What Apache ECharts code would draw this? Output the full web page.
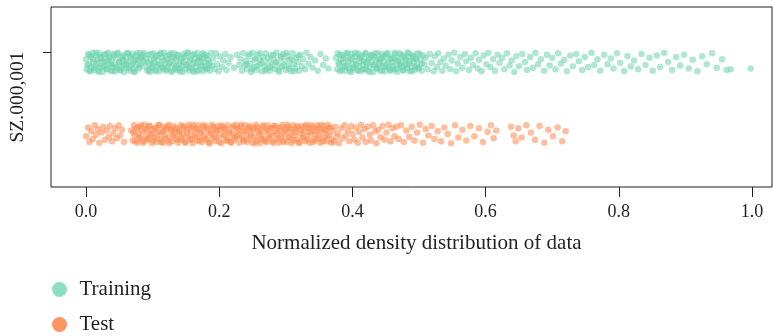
<!DOCTYPE html>
<html>
<head>
<meta charset="utf-8">
<script src="https://cdn.jsdelivr.net/npm/echarts@6/dist/echarts.min.js"></script>
<style>
  html, body { margin: 0; padding: 0; background: #fff; }
  #chart { width: 773px; height: 336px; }
</style>
</head>
<body>
<div id="chart"></div>
<script>
  // categories and tick labels
  var categories = ['Training', 'Test'];
  var xTicks = [0.0, 0.2, 0.4, 0.6, 0.8, 1.0];
  var yTickLabel = 'SZ.000,001';

  // jittered strip points: [normalized density, row position] (Training row ~1, Test row ~0)
  var trainingPoints = [
    [0.000,1.04],[0.001,0.90],[0.003,1.11],[0.004,0.97],[0.005,0.87],[0.007,1.07],[0.008,0.93],[0.010,1.13],[0.011,1.00],[0.012,0.89],
    [0.014,1.09],[0.015,0.95],[0.017,1.03],[0.018,0.88],[0.020,1.12],[0.021,0.92],[0.022,1.06],[0.024,0.99],[0.025,0.86],[0.027,1.10],
    [0.028,0.94],[0.030,1.02],[0.031,0.90],[0.033,1.13],[0.034,0.97],[0.035,1.07],[0.037,0.88],[0.038,1.01],[0.040,0.93],[0.041,1.11],
    [0.043,0.96],[0.044,0.87],[0.045,1.05],[0.047,0.91],[0.048,1.12],[0.050,0.99],[0.051,0.89],[0.053,1.08],[0.054,0.94],[0.055,1.03],
    [0.057,0.86],[0.058,1.10],[0.060,0.97],[0.061,0.92],[0.063,1.13],[0.064,1.00],[0.065,0.88],[0.067,1.06],[0.068,0.95],[0.070,1.11],
    [0.071,0.90],[0.073,1.02],[0.074,0.87],[0.075,1.09],[0.077,0.96],[0.078,1.04],[0.080,0.91],[0.081,1.12],[0.083,0.98],[0.084,1.07],
    [0.086,1.01],[0.087,1.13],[0.089,0.93],[0.090,1.05],[0.092,0.88],[0.093,1.10],[0.095,0.97],[0.096,0.86],[0.098,1.03],[0.099,0.92],
    [0.101,1.12],[0.102,0.99],[0.104,0.89],[0.105,1.08],[0.107,0.95],[0.108,1.02],[0.110,0.87],[0.111,1.11],[0.113,0.94],[0.114,1.06],
    [0.116,0.90],[0.117,1.13],[0.119,0.98],[0.120,0.88],[0.122,1.04],[0.123,0.93],[0.125,1.10],[0.126,1.00],[0.128,0.86],[0.129,1.07],
    [0.131,0.96],[0.132,1.12],[0.134,0.91],[0.135,1.03],[0.137,0.89],[0.138,1.09],[0.140,0.97],[0.141,0.87],[0.143,1.05],[0.144,0.94],
    [0.146,1.11],[0.147,1.00],[0.149,0.90],[0.150,1.08],[0.152,0.95],[0.153,1.13],[0.155,0.88],[0.156,1.02],[0.158,0.92],[0.159,1.10],
    [0.161,0.98],[0.162,0.86],[0.164,1.06],[0.165,0.93],[0.167,1.12],[0.168,1.01],[0.170,0.89],[0.171,1.07],[0.173,0.96],[0.174,1.04],
    [0.176,0.87],[0.177,1.11],[0.179,0.94],[0.180,1.09],[0.182,0.91],[0.183,1.03],[0.185,0.99],[0.186,0.88],[0.188,1.13],[0.189,0.95],
    [0.002,0.96],[0.005,1.10],[0.007,0.88],[0.010,1.04],[0.012,0.92],[0.015,1.13],[0.017,0.99],[0.020,0.86],[0.022,1.07],[0.025,0.94],
    [0.027,1.01],[0.030,1.11],[0.032,0.90],[0.035,1.05],[0.037,0.97],[0.040,0.87],[0.042,1.09],[0.045,0.93],[0.047,1.12],[0.050,1.00],
    [0.052,0.89],[0.055,1.06],[0.057,0.95],[0.060,1.02],[0.062,1.12],[0.065,0.91],[0.067,1.08],[0.070,0.98],[0.072,0.86],[0.075,1.03],
    [0.077,1.13],[0.080,0.94],[0.082,1.06],[0.085,1.10],[0.092,1.00],[0.095,0.89],[0.097,1.11],[0.100,0.95],[0.102,1.04],[0.105,0.87],
    [0.107,1.09],[0.110,0.97],[0.112,1.13],[0.115,0.92],[0.117,1.02],[0.120,1.08],[0.122,0.90],[0.125,0.98],[0.127,1.12],[0.130,0.88],
    [0.132,1.05],[0.135,0.95],[0.137,1.10],[0.140,0.91],[0.142,1.01],[0.145,0.86],[0.147,1.07],[0.150,0.97],[0.152,1.13],[0.155,0.93],
    [0.157,1.04],[0.160,0.89],[0.162,1.11],[0.165,0.99],[0.167,0.87],[0.170,1.06],[0.172,0.94],[0.175,1.12],[0.177,1.00],[0.180,0.90],
    [0.182,1.08],[0.185,0.96],
    [0.191,1.05],[0.193,0.90],[0.195,1.12],[0.197,0.97],[0.199,0.87],[0.201,1.08],[0.204,0.93],[0.206,1.02],[0.209,1.11],[0.211,0.89],
    [0.214,0.99],[0.217,1.07],[0.222,0.92],[0.227,1.10],[0.230,0.96],
    [0.232,1.04],[0.234,0.88],[0.236,1.12],[0.238,0.95],[0.240,1.01],[0.242,0.90],[0.244,1.08],[0.246,0.98],[0.248,0.86],[0.250,1.13],
    [0.252,0.93],[0.254,1.05],[0.256,0.89],[0.258,1.10],[0.260,0.97],[0.262,1.02],[0.264,0.87],[0.266,1.07],[0.268,0.94],[0.270,1.12],
    [0.272,0.91],[0.274,1.00],[0.276,0.88],[0.278,1.09],[0.280,0.96],[0.282,1.04],[0.284,0.90],[0.286,1.13],[0.288,0.98],[0.290,0.86],
    [0.292,1.06],[0.294,0.93],[0.296,1.11],[0.298,1.01],[0.300,0.89],[0.302,1.08],[0.304,0.95],[0.306,1.03],[0.308,0.87],[0.310,1.12],
    [0.312,0.97],[0.314,0.91],[0.316,1.06],[0.318,1.00],[0.320,0.88],[0.322,1.10],[0.324,0.94],[0.326,1.04],[0.329,0.90],[0.331,1.13],
    [0.334,0.98],[0.337,1.07],[0.340,0.92],[0.344,1.02],[0.348,0.88],[0.352,1.11],[0.356,0.96],[0.360,1.05],[0.364,0.91],
    [0.241,0.97],[0.245,1.11],[0.249,0.90],[0.253,1.03],[0.257,0.94],[0.261,1.12],[0.265,0.99],[0.269,0.88],[0.273,1.06],[0.277,0.93],
    [0.281,1.10],[0.285,1.00],[0.289,0.89],[0.293,1.08],[0.297,0.95],[0.301,1.13],[0.305,0.91],[0.309,1.04],[0.313,0.87],[0.319,1.09],
    [0.375,1.06],[0.377,0.90],[0.378,1.12],[0.380,0.97],[0.381,0.87],[0.383,1.03],[0.384,1.10],[0.386,0.93],[0.387,1.00],[0.389,0.88],
    [0.390,1.08],[0.392,0.95],[0.393,1.13],[0.395,0.91],[0.396,1.04],[0.398,0.86],[0.399,1.11],[0.401,0.98],[0.402,0.92],[0.404,1.07],
    [0.405,1.01],[0.407,0.89],[0.408,1.12],[0.410,0.94],[0.411,1.05],[0.413,0.87],[0.414,1.09],[0.416,0.96],[0.417,1.02],[0.419,0.90],
    [0.420,1.13],[0.422,0.99],[0.423,0.88],[0.425,1.06],[0.426,0.93],[0.428,1.10],[0.429,1.00],[0.431,0.86],[0.432,1.08],[0.434,0.95],
    [0.435,1.03],[0.437,0.91],[0.438,1.12],[0.440,0.97],[0.441,0.89],[0.443,1.05],[0.444,1.11],[0.446,0.94],[0.447,1.01],[0.449,0.87],
    [0.450,1.09],[0.452,0.96],[0.453,1.13],[0.455,0.92],[0.456,1.04],[0.458,0.88],[0.459,1.07],[0.461,0.99],[0.462,0.90],[0.464,1.11],
    [0.465,1.02],[0.467,0.86],[0.468,1.06],[0.470,0.95],[0.471,1.12],[0.473,0.93],[0.474,1.00],[0.476,0.89],[0.477,1.08],[0.479,0.97],
    [0.480,1.04],[0.482,0.91],[0.483,1.13],[0.485,0.98],[0.486,0.87],[0.488,1.07],[0.489,0.94],[0.491,1.10],[0.492,1.01],[0.494,0.89],
    [0.495,1.05],[0.497,0.96],[0.498,1.12],[0.500,0.92],[0.502,1.03],[0.504,0.88],[0.506,1.09],[0.508,0.97],[0.510,1.06],[0.513,0.90],
    [0.516,1.11],[0.519,0.99],[0.522,0.87],
    [0.379,0.99],[0.381,1.10],[0.384,0.89],[0.386,1.05],[0.389,0.94],[0.391,1.12],[0.394,1.00],[0.396,0.87],[0.399,1.06],[0.401,0.92],
    [0.404,1.13],[0.406,0.97],[0.409,0.88],[0.411,1.08],[0.414,1.01],[0.416,0.90],[0.419,1.11],[0.421,0.95],[0.424,1.03],[0.426,0.86],
    [0.429,1.09],[0.431,0.96],[0.434,1.12],[0.436,0.91],[0.439,1.04],[0.441,0.99],[0.444,0.87],[0.446,1.07],[0.449,0.93],[0.451,1.11],
    [0.454,1.00],[0.456,0.89],[0.459,1.05],[0.461,0.94],[0.464,1.13],[0.466,0.90],[0.469,1.02],[0.471,0.97],[0.474,1.10],[0.476,0.88],
    [0.479,1.06],[0.481,0.95],[0.484,1.12],[0.486,1.01],[0.489,0.87],[0.491,1.08],[0.494,0.93],[0.496,1.04],[0.499,0.91],[0.501,1.11],
    [0.504,0.98],
    [0.524,1.08],[0.527,0.93],[0.529,1.12],[0.532,1.00],[0.535,0.88],[0.537,1.05],[0.540,0.95],[0.544,1.10],[0.547,0.90],[0.549,1.02],
    [0.553,1.13],[0.556,0.87],[0.558,0.98],[0.562,1.07],[0.565,0.92],[0.569,1.11],[0.571,1.01],[0.575,0.89],[0.578,1.06],[0.581,0.96],
    [0.585,1.12],[0.588,0.91],[0.590,1.03],[0.594,0.87],[0.597,1.09],[0.601,0.97],[0.604,1.13],[0.607,0.93],[0.611,1.04],[0.614,0.88],
    [0.618,1.10],[0.621,0.99],[0.625,1.06],[0.628,0.90],[0.632,1.12],[0.636,0.95],[0.639,1.02],[0.643,0.86],[0.646,1.08],[0.650,0.94],
    [0.655,1.11],[0.659,1.00],[0.662,0.89],[0.667,1.07],[0.671,0.92],[0.675,1.13],[0.679,0.97],[0.683,1.04],[0.688,0.88],[0.692,1.10],
    [0.696,0.95],[0.700,1.06],[0.705,0.90],[0.709,1.12],[0.713,0.98],[0.718,1.03],[0.722,0.87],[0.727,1.09],[0.731,0.94],[0.736,1.11],
    [0.740,1.01],[0.745,0.89],[0.749,1.07],[0.754,0.93],[0.759,1.13],[0.763,0.96],[0.768,1.04],[0.772,0.88],[0.778,1.10],[0.783,0.97],
    [0.788,1.05],[0.792,0.91],[0.797,1.12],[0.802,0.99],[0.808,0.87],[0.813,1.08],[0.818,0.94],[0.823,1.02],[0.829,0.90],[0.834,1.11],
    [0.840,0.96],[0.846,1.06],[0.851,0.88],[0.857,1.09],[0.862,0.93],[0.868,1.13],[0.874,1.00],[0.880,0.89],[0.886,1.07],[0.892,0.95],
    [0.898,1.10],[0.905,0.91],[0.911,1.03],[0.918,0.87],[0.925,1.08],[0.932,0.97],[0.940,1.12],[0.947,0.92],[0.955,1.04],[0.962,0.89],
    [0.968,0.90],[0.998,0.91]
  ];

  var testPoints = [
    [0.000,-0.03],[0.003,0.09],[0.005,-0.11],[0.008,0.04],[0.010,-0.07],[0.013,0.12],[0.015,-0.01],[0.018,0.07],[0.020,-0.12],[0.023,0.02],
    [0.026,0.10],[0.028,-0.08],[0.031,0.05],[0.034,-0.04],[0.036,0.11],[0.039,-0.10],[0.041,0.01],[0.044,0.08],[0.046,-0.06],[0.049,0.12],
    [0.051,-0.02],[0.054,0.06],[0.057,-0.11],
    [0.068,0.05],[0.070,-0.09],[0.072,0.12],[0.073,-0.02],[0.075,0.08],[0.077,-0.12],[0.079,0.01],[0.081,0.10],[0.082,-0.06],[0.084,0.04],
    [0.086,-0.10],[0.088,0.13],[0.090,-0.03],[0.091,0.07],[0.093,-0.08],[0.095,0.11],[0.097,0.00],[0.099,-0.13],[0.100,0.06],[0.102,-0.05],
    [0.104,0.09],[0.106,-0.11],[0.108,0.03],[0.109,0.12],[0.111,-0.07],[0.113,0.02],[0.115,-0.12],[0.117,0.10],[0.118,-0.01],[0.120,0.07],
    [0.122,-0.09],[0.124,0.13],[0.126,-0.04],[0.127,0.05],[0.129,-0.10],[0.131,0.11],[0.133,0.01],[0.135,-0.06],[0.136,0.08],[0.138,-0.12],
    [0.140,0.03],[0.142,0.12],[0.144,-0.08],[0.145,0.00],[0.147,0.09],[0.149,-0.11],[0.151,0.06],[0.153,-0.03],[0.154,0.13],[0.156,-0.07],
    [0.158,0.04],[0.160,-0.13],[0.162,0.10],[0.163,-0.01],[0.165,0.07],[0.167,-0.09],[0.169,0.12],[0.171,-0.05],[0.172,0.02],[0.174,-0.11],
    [0.176,0.09],[0.178,-0.02],[0.180,0.11],[0.181,-0.08],[0.183,0.05],[0.185,-0.12],[0.187,0.01],[0.189,0.13],[0.190,-0.06],[0.192,0.08],
    [0.194,-0.10],[0.196,0.03],[0.198,0.11],[0.199,-0.04],[0.201,0.06],[0.203,-0.13],[0.205,0.10],[0.207,-0.01],[0.208,0.07],[0.210,-0.09],
    [0.212,0.12],[0.214,-0.06],[0.216,0.02],[0.217,-0.11],[0.219,0.09],[0.221,0.00],[0.223,-0.08],[0.225,0.13],[0.226,-0.03],[0.228,0.05],
    [0.230,-0.12],[0.232,0.10],[0.234,-0.05],[0.235,0.04],[0.237,-0.10],[0.239,0.12],[0.241,-0.01],[0.243,0.07],[0.244,-0.07],[0.246,0.11],
    [0.248,0.01],[0.250,-0.12],[0.252,0.08],[0.253,-0.04],[0.255,0.13],[0.257,-0.09],[0.259,0.03],[0.261,-0.13],[0.262,0.06],[0.264,-0.02],
    [0.266,0.10],[0.268,-0.08],[0.270,0.04],[0.271,-0.11],[0.273,0.12],[0.275,-0.05],[0.277,0.08],[0.279,-0.01],[0.280,-0.10],[0.282,0.11],
    [0.284,0.02],[0.286,-0.07],[0.288,0.09],[0.289,-0.12],[0.291,0.05],[0.293,-0.03],[0.295,0.13],[0.297,-0.09],[0.298,0.00],[0.300,0.07],
    [0.302,-0.11],[0.304,0.10],[0.306,-0.05],[0.307,0.03],[0.309,-0.13],[0.311,0.12],[0.313,-0.02],[0.315,0.06],[0.316,-0.08],[0.318,0.09],
    [0.320,-0.11],[0.322,0.01],[0.324,0.11],[0.325,-0.06],[0.327,0.04],[0.329,-0.10],[0.331,0.13],[0.333,-0.03],[0.334,0.08],[0.336,-0.12],
    [0.338,0.02],[0.340,0.10],[0.342,-0.07],[0.343,0.05],[0.345,-0.09],[0.347,0.12],[0.349,-0.01],[0.351,0.07],[0.352,-0.12],[0.354,0.03],
    [0.356,0.11],[0.358,-0.05],[0.360,0.06],[0.361,-0.10],[0.363,0.13],[0.365,-0.02],[0.367,0.09],[0.369,-0.08],[0.370,0.04],[0.372,-0.11],
    [0.374,0.10],[0.376,-0.04],[0.378,0.01],[0.380,-0.13],
    [0.071,0.02],[0.074,-0.10],[0.077,0.09],[0.080,-0.04],[0.083,0.12],[0.086,-0.12],[0.089,0.05],[0.092,-0.07],[0.095,0.11],[0.098,0.00],
    [0.101,-0.09],[0.104,0.07],[0.107,-0.02],[0.110,0.13],[0.113,-0.11],[0.116,0.04],[0.119,-0.06],[0.122,0.10],[0.125,-0.13],[0.128,0.06],
    [0.131,-0.01],[0.134,0.08],[0.137,-0.08],[0.140,0.03],[0.143,-0.05],[0.146,0.11],[0.149,-0.12],[0.152,0.01],[0.155,0.09],[0.158,-0.08],
    [0.161,0.13],[0.164,-0.03],[0.167,0.06],[0.170,-0.10],[0.173,0.03],[0.176,0.12],[0.179,-0.06],[0.182,0.08],[0.185,-0.13],[0.188,0.00],
    [0.191,0.10],[0.194,-0.04],[0.197,0.05],[0.200,-0.11],[0.203,0.12],[0.206,-0.02],[0.209,0.07],[0.212,-0.09],[0.215,0.02],[0.218,-0.12],
    [0.221,0.11],[0.224,-0.05],[0.227,0.08],[0.230,-0.01],[0.233,0.13],[0.236,-0.08],[0.239,0.04],[0.242,-0.11],[0.245,0.09],[0.248,-0.03],
    [0.251,0.06],[0.254,-0.13],[0.257,0.10],[0.260,0.00],[0.263,-0.07],[0.266,0.12],[0.269,-0.10],[0.272,0.05],[0.275,-0.02],[0.278,0.08],
    [0.281,-0.12],[0.284,0.11],[0.287,0.01],[0.290,-0.06],[0.293,0.09],[0.296,-0.11],[0.299,0.04],[0.302,0.13],[0.305,-0.04],[0.308,0.07],
    [0.311,-0.09],[0.314,0.02],[0.317,0.11],[0.320,-0.13],[0.323,0.06],[0.326,-0.03],[0.329,0.10],[0.332,-0.08],[0.335,0.03],[0.338,0.12],
    [0.341,-0.11],[0.344,0.00],[0.347,0.08],[0.350,-0.06],[0.353,0.13],[0.356,-0.10],[0.359,0.05],[0.362,-0.02],[0.365,0.09],[0.368,-0.12],
    [0.383,0.08],[0.385,-0.06],[0.388,0.12],[0.390,-0.02],[0.393,0.05],[0.395,-0.10],[0.398,0.11],[0.400,0.00],[0.403,-0.08],[0.405,0.09],
    [0.408,-0.12],[0.410,0.03],[0.413,0.13],[0.415,-0.05],[0.418,0.07],[0.420,-0.11],[0.423,0.10],[0.426,-0.01],[0.428,-0.09],[0.431,0.12],
    [0.434,0.04],[0.436,-0.13],[0.439,0.06],[0.442,-0.04],[0.445,0.11],[0.448,-0.08],[0.451,0.02],[0.454,0.13],[0.457,-0.10],[0.460,0.08],
    [0.463,-0.03],[0.466,0.10],[0.469,-0.07],
    [0.473,0.12],[0.477,-0.11],[0.481,0.05],[0.485,-0.04],[0.489,0.10],[0.493,-0.09],[0.497,0.02],[0.501,0.13],[0.506,-0.12],[0.510,0.07],
    [0.514,-0.02],[0.519,0.11],[0.523,-0.07],[0.528,0.04],[0.533,-0.10],[0.538,0.09],[0.543,0.00],[0.548,-0.13],[0.554,0.12],[0.559,-0.05],
    [0.565,0.06],[0.571,-0.09],[0.577,0.11],[0.583,-0.03],[0.590,0.08],[0.596,-0.11],[0.603,0.03],[0.608,0.12],[0.612,-0.06],[0.616,0.05],
    [0.638,0.10],[0.642,-0.02],[0.645,-0.10],[0.649,0.08],[0.654,-0.05],[0.661,0.12],[0.668,0.02],[0.674,-0.08],[0.681,0.11],[0.688,-0.12],
    [0.694,0.06],[0.701,-0.03],[0.708,0.09],[0.715,-0.10],[0.720,0.04]
  ];

  var textColor = '#231f20';
  var serif = '"Liberation Serif", "DejaVu Serif", serif';

  var chart = echarts.init(document.getElementById('chart'));
  chart.setOption({
    animation: false,
    grid: {
      left: 51, right: 1, top: 7, bottom: 149,
      show: true, borderColor: textColor, borderWidth: 1
    },
    legend: {
      orient: 'vertical',
      left: 52, top: 279, padding: 0,
      itemWidth: 30, itemHeight: 15, itemGap: 14,
      icon: 'circle',
      textStyle: { fontFamily: serif, fontSize: 21, color: textColor },
      data: [
        { name: categories[0], itemStyle: { color: '#8ddfc2', opacity: 1 } },
        { name: categories[1], itemStyle: { color: '#fe9462', opacity: 1 } }
      ]
    },
    xAxis: {
      type: 'value',
      min: -0.0526, max: 1.03,
      name: 'Normalized density distribution of data',
      nameLocation: 'middle', nameGap: 46,
      nameTextStyle: { fontFamily: serif, fontSize: 21, color: textColor, padding: [0, 0, 0, 10] },
      axisLine: { show: false, onZero: false },
      splitLine: { show: false },
      axisTick: { show: true, length: 10, customValues: xTicks, lineStyle: { color: textColor } },
      axisLabel: {
        customValues: xTicks, margin: 16,
        fontFamily: serif, fontSize: 18, color: textColor,
        formatter: function (v) { return v.toFixed(1); }
      }
    },
    yAxis: {
      type: 'value',
      min: -0.736, max: 1.764,
      name: yTickLabel,
      nameLocation: 'middle', nameGap: 23,
      nameTextStyle: { fontFamily: serif, fontSize: 19.5, color: textColor },
      axisLine: { show: false, onZero: false },
      splitLine: { show: false },
      axisTick: { show: true, length: 8, customValues: [1.14], lineStyle: { color: textColor } },
      axisLabel: { show: false }
    },
    series: [
      {
        name: categories[0], type: 'scatter', silent: true,
        symbolSize: 6.5,
        itemStyle: { color: '#6fd3ae', opacity: 0.55 },
        data: trainingPoints
      },
      {
        name: categories[1], type: 'scatter', silent: true,
        symbolSize: 6.5,
        itemStyle: { color: '#ff8a50', opacity: 0.55 },
        data: testPoints
      }
    ]
  });
</script>
</body>
</html>
